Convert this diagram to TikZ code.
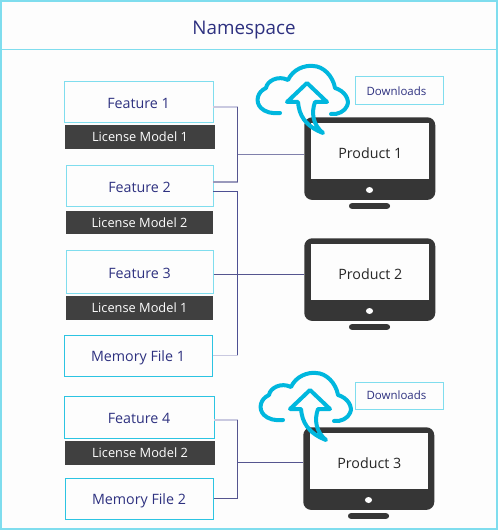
\documentclass[tikz,border=0pt]{standalone}
\usepackage{fontspec}
\setmainfont{Open Sans}
\definecolor{navy}{HTML}{2E3180}
\definecolor{skyline}{HTML}{7FDDEE}
\definecolor{skydark}{HTML}{2CC4E2}
\definecolor{cloudblue}{HTML}{00B7DE}
\definecolor{panel}{HTML}{404040}
\definecolor{screenbody}{HTML}{363636}
\definecolor{wire}{HTML}{55558F}
\definecolor{wirelight}{HTML}{C9C9E0}
\definecolor{sheet}{HTML}{FDFDFD}
\tikzset{
  itembox/.style={draw=skyline,line width=0.75pt,fill=sheet,text=navy,inner sep=0pt,
    text height=9.2pt,text depth=0pt,font=\fontsize{10.7}{12}\selectfont},
  itemdark/.style={itembox,draw=skydark},
  licensebox/.style={fill=panel,text=white,inner sep=0pt,
    font=\fontsize{9.6}{12}\selectfont},
  downloadbox/.style={itembox,text height=6.5pt,font=\fontsize{8.6}{10}\selectfont},
  wireline/.style={draw=wire,line width=0.75pt},
  stubline/.style={draw=wirelight,line width=1.2pt},
  cloudline/.style={draw=cloudblue,line width=3pt,line cap=round,line join=round}
}
% box by its pixel corners: name, left, top, right, bottom, style, text
\newcommand{\pxbox}[7]{
  \node[#6,minimum width=(#4-#2)*0.75pt,minimum height=(#5-#3)*0.75pt] (#1) at ({(#2+#4)/2},{(#3+#5)/2}){#7};
}
% monitor: name, left, top, text
\newcommand{\monitor}[4]{
  \node[fill=screenbody,rounded corners=6pt,inner sep=0pt,minimum width=98.25pt,minimum height=62pt,anchor=north west] (#1) at (#2,#3){};
  \node[fill=sheet,inner sep=0pt,minimum width=88.5pt,minimum height=42pt,anchor=north west,text=black!85,
    text height=10.7pt,text depth=0pt,font=\fontsize{10.7}{12}\selectfont] (#1s) at ($(#2,#3)+(7,6)$){#4};
  \node[fill=sheet,ellipse,inner sep=0pt,minimum width=5.4pt,minimum height=4.5pt] (#1d) at ($(#2,#3)+(65.5,73)$){};
  \node[fill=screenbody,rounded corners=2pt,inner sep=0pt,minimum width=30.75pt,minimum height=4.2pt] (#1f) at ($(#2,#3)+(65.5,89)$){};
}
% cloud with arrow, shifted from the upper one
\newcommand{\cloudicon}[2]{
  \begin{scope}[shift={(#1,#2)}]
    \draw[cloudline] (280,113) .. controls (272,114) and (265,112) .. (261,108)
      .. controls (255,102) and (257,92) .. (266,88)
      .. controls (267,81) and (278,75) .. (288,80)
      .. controls (293,69) and (305,65) .. (313,66)
      .. controls (323,66) and (333,76) .. (335,88)
      .. controls (345,91) and (350,100) .. (347,106)
      .. controls (345,111) and (338,115) .. (331,114);
    \draw[cloudline] (307,83) -- (287,102) -- (298,102)
      .. controls (299,115) and (305,126) .. (323,133)
      .. controls (313,125) and (311,113) .. (315,102)
      -- (327,102) -- cycle;
  \end{scope}
}
\usetikzlibrary{calc,shapes.geometric}
\begin{document}
\begin{tikzpicture}[x=0.75pt,y=-0.75pt]
  \useasboundingbox (0,0) rectangle (498,530);
  \fill[sheet] (0,0) rectangle (498,530);
  \draw[skyline,line width=0.9pt] (1,1) rectangle (497,529);
  \draw[skyline,line width=0.75pt] (1,50) -- (497,50);
  \node[text=navy,font=\fontsize{14.1}{16}\selectfont] (title) at (244,30){Namespace};

  \monitor{prodone}{304}{117}{Product 1}
  \monitor{prodtwo}{304}{238}{Product 2}
  \monitor{prodthree}{303}{427}{Product 3}

  \pxbox{featone}{64}{82}{213}{123}{itembox}{Feature 1}
  \pxbox{licone}{65}{125}{215}{149}{licensebox}{License Model 1}
  \pxbox{feattwo}{66}{166}{213}{207}{itembox}{Feature 2}
  \pxbox{lictwo}{66}{211}{213}{234}{licensebox}{License Model 2}
  \pxbox{featthree}{66}{251}{213}{293}{itembox}{Feature 3}
  \pxbox{licthree}{66}{296}{213}{320}{licensebox}{License Model 1}
  \pxbox{memone}{64}{335}{212}{376}{itemdark}{Memory File 1}
  \pxbox{featfour}{64}{396}{214}{438}{itemdark}{Feature 4}
  \pxbox{licfour}{65}{441}{215}{465}{licensebox}{License Model 2}
  \pxbox{memtwo}{65}{478}{213}{519}{itemdark}{Memory File 2}
  \pxbox{dlone}{355}{77}{443}{105}{downloadbox}{\hspace*{-3.8pt}Downloads}
  \pxbox{dltwo}{355}{382}{443}{409}{downloadbox}{\hspace*{-3.8pt}Downloads}

  \coordinate (busa) at (237.5,155);
  \coordinate (busb) at (237.5,274);
  \coordinate (busc) at (237.5,462);
  \coordinate (fonew) at (213,107);
  \coordinate (ftwoa) at (213,182);
  \coordinate (ftwob) at (213,192);
  \coordinate (ffourw) at (214,420);

  \draw[stubline] (fonew) -- (fonew -| busa);
  \draw[stubline,draw=wire!60] (ftwoa) -- (ftwoa -| busa);
  \draw[wireline] (fonew -| busa) -- (ftwoa -| busa);
  \draw[wireline,draw=wire!75] (busa) -- (busa -| prodone.west);
  \draw[wireline,draw=navy!85] (ftwob) -| (memone.east -| busb);
  \draw[wireline] (featthree.east |- busb) -- (busb -| prodtwo.west);
  \draw[stubline] (memone.east) -- (memone.east -| busb);
  \draw[stubline] (ffourw) -- (ffourw -| busc);
  \draw[wireline] (ffourw -| busc) |- (memtwo.east);
  \draw[wireline] (busc) -- (busc -| prodthree.west);

  \cloudicon{0}{0}
  \cloudicon{3}{307}
\end{tikzpicture}
\end{document}
